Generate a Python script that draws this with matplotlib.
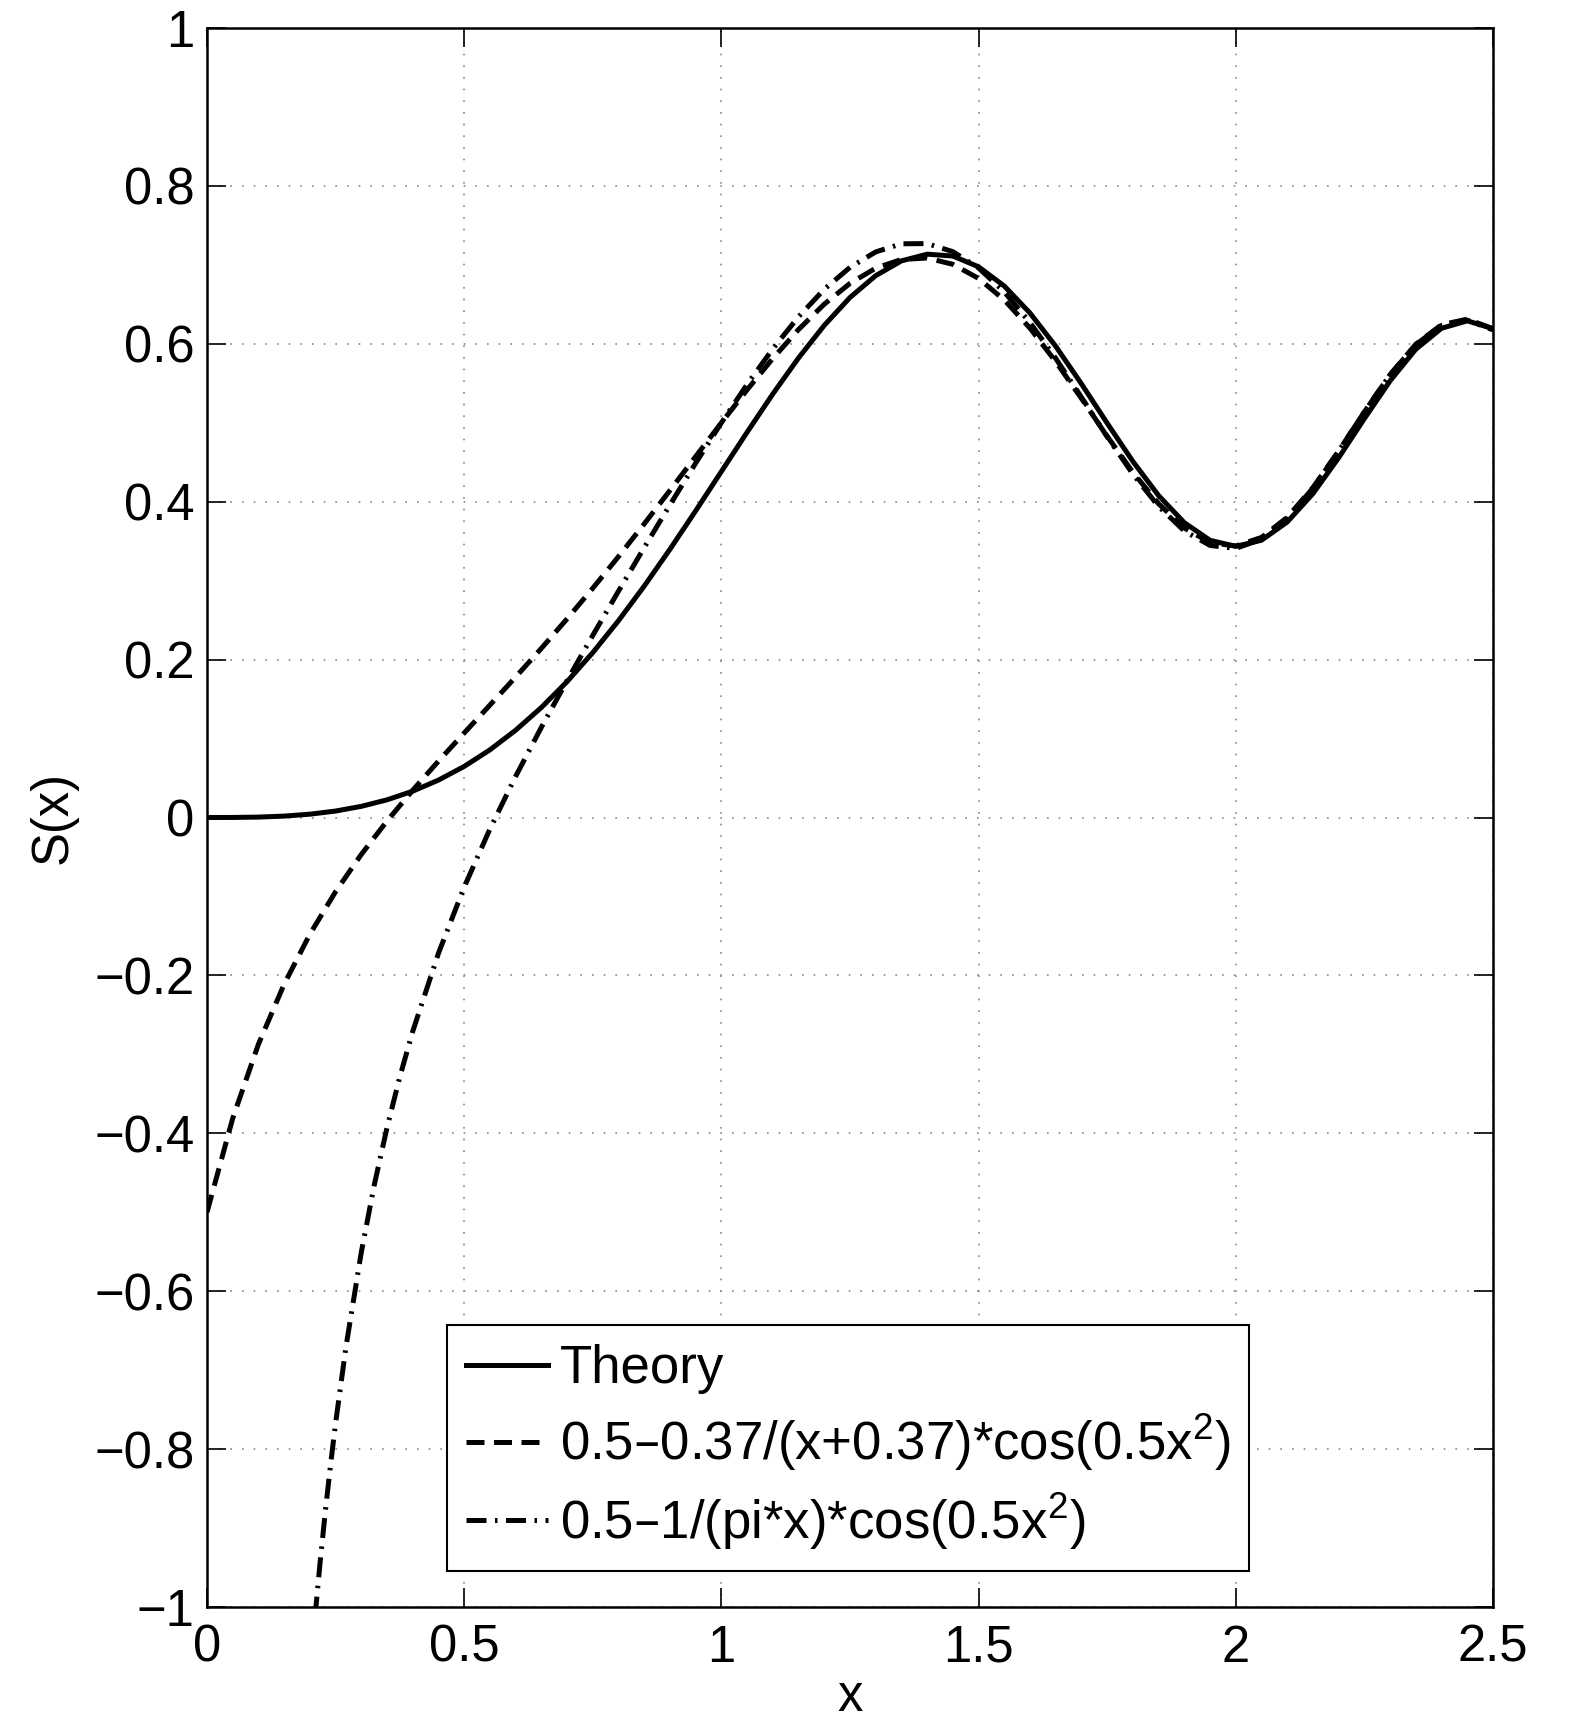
import matplotlib.pyplot as plt
import numpy as np

# values (step 0.05)
x = np.round(np.arange(0, 2.501, 0.05), 2)
theory = [0.0, 0.00007, 0.00052, 0.00177, 0.00419, 0.00818, 0.01412, 0.02239, 0.03336, 0.04737,
          0.06473, 0.08571, 0.11054, 0.13933, 0.17214, 0.20887, 0.24934, 0.29315, 0.33977, 0.38845,
          0.43826, 0.48804, 0.53650, 0.58214, 0.62340, 0.65866, 0.68633, 0.70503, 0.71353, 0.71114,
          0.69750, 0.67311, 0.63889, 0.59678, 0.54920, 0.49940, 0.45094, 0.40767, 0.37335, 0.35109,
          0.34342, 0.35120, 0.37427, 0.41027, 0.45570, 0.50529, 0.55315, 0.59317, 0.61969, 0.62906,
          0.61918]
approx1 = [-0.5, -0.38095, -0.28714, -0.21109, -0.14784, -0.09390, -0.04673, -0.00440, 0.03458, 0.07141,
           0.10709, 0.14238, 0.17794, 0.21425, 0.25168, 0.29042, 0.33055, 0.37195, 0.41433, 0.45724,
           0.5, 0.54177, 0.58153, 0.61811, 0.65022, 0.67655, 0.69581, 0.70681, 0.70863, 0.70067,
           0.68280, 0.65546, 0.61972, 0.57734, 0.53073, 0.48289, 0.43723, 0.39733, 0.36665, 0.34813,
           0.34388, 0.35477, 0.38021, 0.41795, 0.46420, 0.51384, 0.56097, 0.59953, 0.62419, 0.63121,
           0.61911]
x2 = [0.21, 0.22, 0.23, 0.24, 0.25, 0.27, 0.30, 0.325, 0.35, 0.375,
      0.40, 0.45, 0.50, 0.55, 0.60, 0.65, 0.70, 0.75, 0.80, 0.85, 0.90, 0.95,
      1.00, 1.05, 1.10, 1.15, 1.20, 1.25, 1.30, 1.35, 1.40, 1.45,
      1.50, 1.55, 1.60, 1.65, 1.70, 1.75, 1.80, 1.85, 1.90, 1.95,
      2.00, 2.05, 2.10, 2.15, 2.20, 2.25, 2.30, 2.35, 2.40, 2.45, 2.50]
approx2 = [-1.01213, -0.94268, -0.87918, -0.82087, -0.76711, -0.67120, -0.55045, -0.46597, -0.39267, -0.32820,
           -0.27077, -0.17187, -0.08816, -0.01463, 0.05207, 0.11424, 0.17345, 0.23075, 0.28680, 0.34189,
           0.39600, 0.44889, 0.5, 0.54860, 0.59373, 0.63430, 0.66908, 0.69685, 0.71639, 0.72668,
           0.72692, 0.71669, 0.69605, 0.66567, 0.62681, 0.58145, 0.53219, 0.48217, 0.43490, 0.39401,
           0.36293, 0.34456, 0.34085, 0.35251, 0.37879, 0.41727, 0.46402, 0.51387, 0.56089, 0.59910,
           0.62332, 0.62992, 0.61763]

xticks = [0, 0.5, 1, 1.5, 2, 2.5]
xticklabels = ['0', '0.5', '1', '1.5', '2', '2.5']
yticks = [-1, -0.8, -0.6, -0.4, -0.2, 0, 0.2, 0.4, 0.6, 0.8, 1]
yticklabels = ['\u22121', '\u22120.8', '\u22120.6', '\u22120.4', '\u22120.2', '0',
               '0.2', '0.4', '0.6', '0.8', '1']

labels = ['Theory',
          '0.5\u20130.37/(x+0.37)*cos(0.5x$^{2}$)',
          '0.5\u20131/(pi*x)*cos(0.5x$^{2}$)']

plt.rcParams['font.family'] = ['Liberation Sans', 'DejaVu Sans']
plt.rcParams['mathtext.default'] = 'regular'

fig = plt.figure(figsize=(15.75, 17.25), dpi=100)
ax = fig.add_axes([207/1575, 1 - 1607/1725, 1286/1575, 1579/1725])

lw = 3.6
ax.plot(x, theory, '-', color='black', lw=lw, label=labels[0])
ax.plot(x, approx1, color='black', lw=lw, linestyle=(0, (3.6, 1.9)), label=labels[1])
ax.plot(x2, approx2, color='black', lw=lw, linestyle=(0, (4.0, 1.7, 0.5, 1.7)), label=labels[2])

ax.set_xlim(0, 2.5)
ax.set_ylim(-1, 1)
ax.set_xticks(xticks)
ax.set_xticklabels(xticklabels)
ax.set_yticks(yticks)
ax.set_yticklabels(yticklabels)
ax.tick_params(direction='in', length=14, width=1.2, labelsize=36.5, top=True, right=True)
ax.tick_params(axis='x', pad=12)
ax.tick_params(axis='y', pad=9)
ax.grid(True, color='#888888', linestyle=(0, (1, 6)), lw=1.2)
for s in ax.spines.values():
    s.set_linewidth(1.8)

ax.set_xlabel('x', fontsize=36.5, labelpad=0)
ax.set_ylabel('S(x)', fontsize=36.5, labelpad=12)

leg = ax.legend(loc='lower left', bbox_to_anchor=(0.187, 0.023), fontsize=38,
                frameon=True, fancybox=False, framealpha=1, edgecolor='black',
                handlelength=1.55, handletextpad=0.22, borderpad=0.36, labelspacing=0.33,
                borderaxespad=0)
leg.get_frame().set_linewidth(1.5)

plt.savefig('out.png', dpi=100)
